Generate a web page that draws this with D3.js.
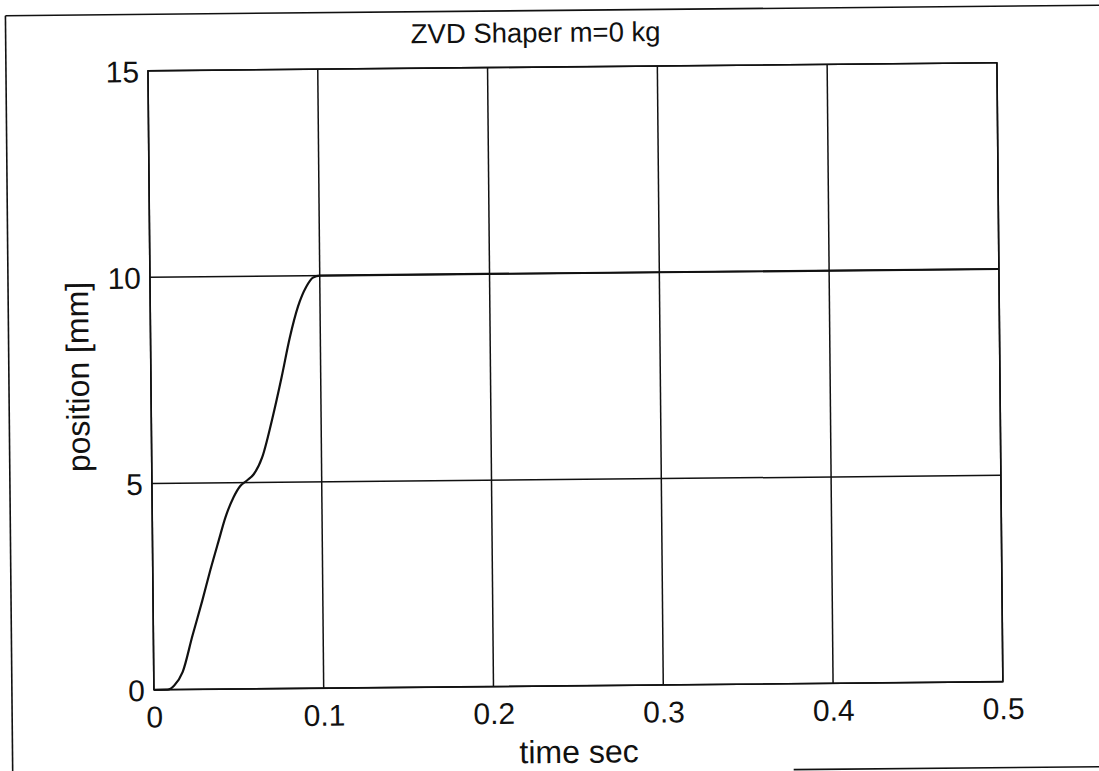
<!DOCTYPE html>
<html>
<head>
<meta charset="utf-8">
<script src="https://cdn.jsdelivr.net/npm/d3@7"></script>
<style>
  html, body { margin: 0; padding: 0; background: #fff; }
  svg { display: block; }
  text { font-family: "Liberation Sans", Arial, sans-serif; fill: #111; }
</style>
</head>
<body>
<svg id="chart" width="1099" height="771"></svg>
<script>
// Response of the ZVD-shaped move, no payload
const timeSec = [0, 0.008, 0.012, 0.017, 0.023, 0.029, 0.034, 0.039, 0.043, 0.048,
                 0.052, 0.056, 0.060, 0.065, 0.071, 0.077, 0.082, 0.087, 0.092, 0.096,
                 0.100, 0.5];
const positionMm = [0, 0, 0.1, 0.42, 1.3, 2.15, 2.9, 3.6, 4.15, 4.65,
                    4.92, 5.05, 5.2, 5.6, 6.5, 7.55, 8.5, 9.25, 9.73, 9.95,
                    10.0, 10.0];

const xTicks = [0, 0.1, 0.2, 0.3, 0.4, 0.5];
const yTicks = [0, 5, 10, 15];
const xTickLabels = ["0", "0.1", "0.2", "0.3", "0.4", "0.5"];
const yTickLabels = ["0", "5", "10", "15"];

const titleText = "ZVD Shaper m=0 kg";
const xLabelText = "time sec";
const yLabelText = "position [mm]";

const svg = d3.select("#chart");
const W = 1099, H = 771;
const box = { left: 151, right: 1000, top: 67, bottom: 686 };

// whole page sits a little tilted
const root = svg.append("g").attr("transform", `rotate(-0.55, ${W / 2}, ${H / 2})`);

// outer page frame
const frame = root.append("g").attr("stroke", "#111").attr("stroke-width", 1.6).attr("fill", "none");
frame.append("line").attr("x1", 9).attr("y1", 10.5).attr("x2", 1110).attr("y2", 10.5);
frame.append("line").attr("x1", 9).attr("y1", 10.5).attr("x2", 9).attr("y2", 790);
frame.append("line").attr("x1", 790).attr("y1", 772).attr("x2", 1110).attr("y2", 772);

const x = d3.scaleLinear().domain([0, 0.5]).range([box.left, box.right]);
const y = d3.scaleLinear().domain([0, 15]).range([box.bottom, box.top]);

// grid lines
const grid = root.append("g").attr("stroke", "#111").attr("stroke-width", 1.5);
grid.selectAll("line.gx").data(xTicks).join("line")
  .attr("class", "gx")
  .attr("x1", d => x(d)).attr("x2", d => x(d))
  .attr("y1", box.top).attr("y2", box.bottom);
grid.selectAll("line.gy").data(yTicks).join("line")
  .attr("class", "gy")
  .attr("x1", box.left).attr("x2", box.right)
  .attr("y1", d => y(d)).attr("y2", d => y(d));

// plot box
root.append("rect")
  .attr("x", box.left).attr("y", box.top)
  .attr("width", box.right - box.left).attr("height", box.bottom - box.top)
  .attr("fill", "none").attr("stroke", "#111").attr("stroke-width", 1.6);

// axes (labels only; grid carries the tick marks)
const xAxis = d3.axisBottom(x).tickValues(xTicks)
  .tickFormat((d, i) => xTickLabels[i]).tickSize(0).tickPadding(0);
const gx = root.append("g").attr("transform", `translate(0, ${box.bottom})`).call(xAxis);
gx.select(".domain").remove();
gx.selectAll("text").attr("dy", null).attr("y", 37.5)
  .style("font-size", "30px").style("font-family", "'Liberation Sans', Arial, sans-serif")
  .attr("fill", "#111");

const yAxis = d3.axisLeft(y).tickValues(yTicks)
  .tickFormat((d, i) => yTickLabels[i]).tickSize(0).tickPadding(0);
const gy = root.append("g").attr("transform", `translate(${box.left}, 0)`).call(yAxis);
gy.select(".domain").remove();
gy.selectAll("text").attr("x", -9).attr("dy", "0.36em")
  .style("font-size", "30px").style("font-family", "'Liberation Sans', Arial, sans-serif")
  .attr("fill", "#111");

// response curve
const line = d3.line()
  .x((d, i) => x(timeSec[i]))
  .y(d => y(d))
  .curve(d3.curveMonotoneX);
root.append("path")
  .datum(positionMm)
  .attr("d", line)
  .attr("fill", "none")
  .attr("stroke", "#111")
  .attr("stroke-width", 2.2)
  .attr("stroke-linejoin", "round");

// title and axis labels
root.append("text")
  .attr("x", 539).attr("y", 42)
  .attr("text-anchor", "middle")
  .style("font-size", "27.5px")
  .text(titleText);

root.append("text")
  .attr("x", (box.left + box.right) / 2).attr("y", 763)
  .attr("text-anchor", "middle")
  .style("font-size", "32px")
  .text(xLabelText);

root.append("text")
  .attr("transform", `translate(89, ${(box.top + box.bottom) / 2 - 4}) rotate(-90)`)
  .attr("text-anchor", "middle")
  .style("font-size", "32px")
  .text(yLabelText);
</script>
</body>
</html>
